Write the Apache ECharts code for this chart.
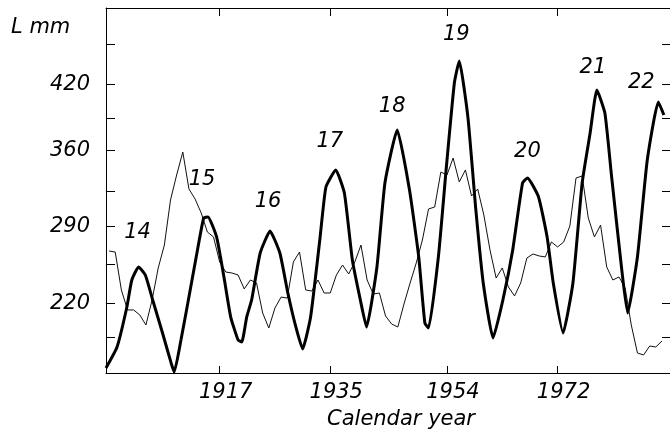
<!DOCTYPE html>
<html>
<head>
<meta charset="utf-8">
<script src="https://cdn.jsdelivr.net/npm/echarts@6/dist/echarts.min.js"></script>
<style>
  html, body { margin: 0; padding: 0; background: #fff; }
  #chart { width: 670px; height: 432px; }
</style>
</head>
<body>
<div id="chart"></div>
<script>
// Smoothed cycle curve (thick): decimal year and length, mm
const thickYears = [
  1898.5, 1900.3, 1901.9, 1902.7, 1903.8, 1904.9, 1906.1, 1907.7, 1909.1, 1909.6,
  1910.7, 1911.7, 1913.3, 1914.4, 1915.1, 1916.5, 1917.7, 1918.8, 1920.0, 1920.6,
  1921.4, 1922.2, 1923.6, 1925.2, 1926.8, 1928.1, 1929.4, 1930.5, 1931.8, 1933.3,
  1934.3, 1935.9, 1937.3, 1938.6, 1939.9, 1940.9, 1942.6, 1943.9, 1945.9, 1947.9,
  1949.4, 1950.4, 1951.0, 1952.6, 1953.9, 1955.2, 1956.0, 1957.4, 1958.7, 1959.9,
  1961.5, 1963.1, 1964.7, 1966.3, 1967.1, 1968.9, 1970.3, 1971.3, 1972.9, 1974.5,
  1976.0, 1977.3, 1978.4, 1979.7, 1980.8, 1982.4, 1983.4, 1985.0, 1986.6, 1988.4,
  1989.3
];
const thickValues = [
  160.6, 179.8, 216.4, 241.1, 253.0, 245.7, 222.8, 192.6, 165.2, 156.9,
  186.2, 216.4, 265.8, 297.8, 298.8, 280.5, 243.8, 207.2, 186.2, 184.4,
  207.2, 222.8, 265.8, 285.9, 265.8, 229.2, 198.1, 178.0, 207.2, 277.7,
  326.2, 341.8, 320.7, 259.4, 222.8, 198.1, 253.0, 329.9, 378.4, 323.5,
  262.2, 201.8, 197.2, 262.2, 344.5, 421.4, 441.5, 390.3, 305.2, 238.4,
  188.0, 222.8, 268.6, 329.9, 334.4, 317.1, 280.5, 238.4, 192.6, 238.4,
  329.9, 375.6, 415.0, 393.9, 335.4, 253.0, 210.9, 262.2, 350.9, 404.0,
  392.1
];

// Annual values (thin line), one per calendar year
const thinYears = [
  1899, 1900, 1901, 1902, 1903, 1904, 1905, 1906, 1907, 1908,
  1909, 1910, 1911, 1912, 1913, 1914, 1915, 1916, 1917, 1918,
  1919, 1920, 1921, 1922, 1923, 1924, 1925, 1926, 1927, 1928,
  1929, 1930, 1931, 1932, 1933, 1934, 1935, 1936, 1937, 1938,
  1939, 1940, 1941, 1942, 1943, 1944, 1945, 1946, 1947, 1948,
  1949, 1950, 1951, 1952, 1953, 1954, 1955, 1956, 1957, 1958,
  1959, 1960, 1961, 1962, 1963, 1964, 1965, 1966, 1967, 1968,
  1969, 1970, 1971, 1972, 1973, 1974, 1975, 1976, 1977, 1978,
  1979, 1980, 1981, 1982, 1983, 1984, 1985, 1986, 1987, 1988,
  1989
];
const thinValues = [
  267.6, 266.7, 232.0, 213.7, 213.7, 209.1, 199.9, 222.8, 252.1, 273.1,
  314.3, 337.2, 358.2, 324.4, 315.2, 302.4, 285.0, 280.5, 257.6, 248.4,
  247.5, 245.7, 232.9, 241.1, 238.4, 210.9, 197.2, 215.5, 225.5, 224.6,
  257.6, 266.7, 232.0, 231.0, 241.1, 229.2, 229.2, 245.7, 254.8, 246.6,
  257.6, 273.1, 241.1, 228.3, 229.2, 208.2, 200.8, 198.1, 219.1, 238.4,
  256.7, 277.7, 306.1, 307.9, 339.9, 337.2, 352.7, 330.8, 341.8, 318.0,
  324.4, 300.6, 268.6, 242.9, 252.1, 234.7, 226.5, 238.4, 261.2, 264.9,
  263.1, 262.2, 275.9, 271.3, 275.9, 290.5, 334.4, 336.3, 297.8, 280.5,
  291.4, 253.0, 241.1, 243.9, 233.8, 199.9, 174.3, 172.5, 180.7, 179.8,
  185.3
];

// Cycle numbers, placed above each cycle maximum
const cycleNumbers = ['14', '15', '16', '17', '18', '19', '20', '21', '22'];
const cyclePeakYears = [1903.8, 1915.1, 1925.2, 1935.9, 1945.9, 1956.0, 1967.1, 1978.4, 1988.4];
const cyclePeakValues = [253.0, 298.8, 285.9, 341.8, 378.4, 441.5, 334.4, 415.0, 404.0];

// Axis labels
const yearTicks = [1917, 1935, 1954, 1972];
const lengthLabels = [220, 290, 360, 420];
const lengthTicks = [188.9, 220, 255.7, 290, 322.5, 360, 389.3, 420, 457.1];

// Label placement relative to each maximum (px)
const cycleLabelOffsets = [[-1, -34], [-6, -37], [-2, -29], [-6, -28], [-5, -23], [-3, -26], [0, -26], [-4, -22], [-17, -19]];

const FONT = 'DejaVu Sans';
const FONT_SIZE = 21;
const INK = '#000';

const zip = (xs, ys) => xs.map((x, i) => [x, ys[i]]);

const chart = echarts.init(document.getElementById('chart'), null, { renderer: 'canvas' });

const axisLine = { show: true, lineStyle: { color: INK, width: 1 } };

chart.setOption({
  animation: false,
  backgroundColor: '#fff',
  grid: { left: 106, top: 8, width: 570, height: 365, containLabel: false },
  xAxis: [
    {
      type: 'value', position: 'bottom', min: 1898.5, max: 1990.3,
      axisLine,
      splitLine: { show: false },
      axisTick: { show: true, inside: true, length: 7, customValues: yearTicks, lineStyle: { color: INK } },
      axisLabel: {
        show: true, customValues: yearTicks, margin: 9,
        formatter: v => String(Math.round(v)),
        fontFamily: FONT, fontStyle: 'italic', fontSize: FONT_SIZE, color: INK,
        padding: [0, 0, 0, 12]
      }
    },
    {
      type: 'value', position: 'top', min: 1898.5, max: 1990.3,
      axisLine,
      splitLine: { show: false },
      axisTick: { show: true, inside: true, length: 8, customValues: yearTicks, lineStyle: { color: INK } },
      axisLabel: { show: false }
    }
  ],
  yAxis: [
    {
      type: 'value', position: 'left', min: 156, max: 490,
      axisLine,
      splitLine: { show: false },
      axisTick: { show: true, inside: true, length: 9, customValues: lengthTicks, lineStyle: { color: INK } },
      axisLabel: {
        show: true, customValues: lengthLabels, margin: 16,
        formatter: v => String(Math.round(v)),
        fontFamily: FONT, fontStyle: 'italic', fontSize: FONT_SIZE, color: INK,
        padding: [5, 0, 0, 0]
      }
    },
    {
      type: 'value', position: 'right', min: 156, max: 490,
      axisLine,
      splitLine: { show: false },
      axisTick: { show: true, inside: true, length: 8, customValues: lengthTicks, lineStyle: { color: INK } },
      axisLabel: { show: false }
    }
  ],
  graphic: [
    {
      type: 'text', x: 11, y: 28,
      style: { text: 'L mm', font: 'italic 21px "DejaVu Sans"', fill: INK, textVerticalAlign: 'middle' }
    },
    {
      type: 'text', x: 401, y: 420,
      style: { text: 'Calendar year', font: 'italic 21px "DejaVu Sans"', fill: INK, textAlign: 'center', textVerticalAlign: 'middle' }
    }
  ],
  series: [
    {
      name: 'annual',
      type: 'line',
      data: zip(thinYears, thinValues),
      showSymbol: false,
      lineStyle: { color: '#111', width: 1 },
      z: 2
    },
    {
      name: 'smoothed',
      type: 'line',
      data: zip(thickYears, thickValues),
      showSymbol: false,
      smooth: 0.15,
      lineStyle: { color: INK, width: 3 },
      z: 3
    },
    {
      name: 'cycles',
      type: 'scatter',
      symbol: 'circle',
      symbolSize: 1,
      itemStyle: { color: 'rgba(0,0,0,0)', opacity: 1 },
      silent: true,
      clip: false,
      data: cycleNumbers.map((n, i) => ({
        value: [cyclePeakYears[i], cyclePeakValues[i]],
        name: n,
        label: { offset: cycleLabelOffsets[i] }
      })),
      label: {
        show: true, position: 'inside', formatter: p => p.name,
        fontFamily: FONT, fontStyle: 'italic', fontSize: FONT_SIZE, color: INK,
        opacity: 1, textBorderWidth: 0
      },
      z: 4
    }
  ]
});
</script>
</body>
</html>
